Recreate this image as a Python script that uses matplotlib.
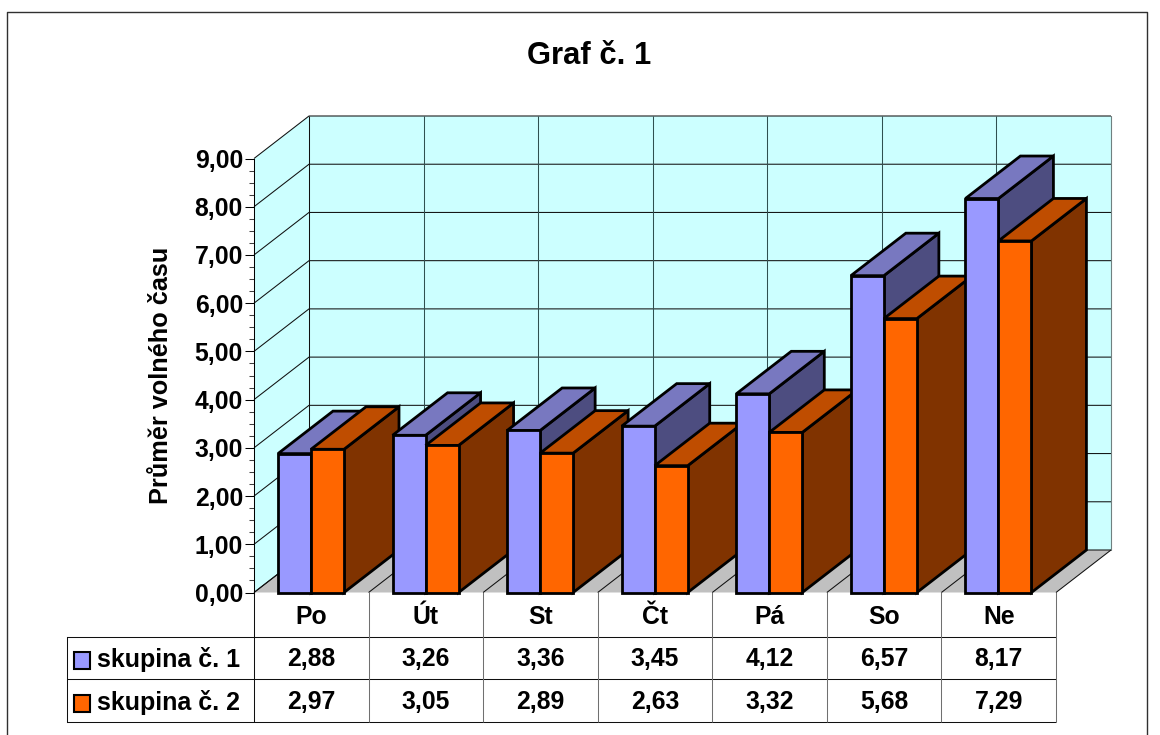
from matplotlib import pyplot as plt
from matplotlib.ticker import MultipleLocator

# data
dny = ['Po', 'Út', 'St', 'Čt', 'Pá', 'So', 'Ne']
skupina1 = [2.88, 3.26, 3.36, 3.45, 4.12, 6.57, 8.17]
skupina2 = [2.97, 3.05, 2.89, 2.63, 3.32, 5.68, 7.29]
nazvy = ['skupina č. 1', 'skupina č. 2']
osa_y = [0, 1, 2, 3, 4, 5, 6, 7, 8, 9]

W, H = 1160, 735
LEFT, RIGHT, BASE, TOP = 254, 1056, 592.5, 158.5
PX_X = (RIGHT - LEFT) / len(dny)
PX_Y = (BASE - TOP) / osa_y[-1]
DX = 55 / PX_X   # depth of the fake 3d, in data units
DY = 42.5 / PX_Y
BAR_W = 33 / PX_X
BAR_OFF = 24 / PX_X

MODRA = ('#9999FF', '#7878C0', '#4D4D80')
ORANZ = ('#FF6600', '#BF4D00', '#803300')
THIN = 0.75
THICK = 2.0

plt.rcParams['font.family'] = ['Liberation Sans', 'DejaVu Sans']
plt.rcParams['font.weight'] = 'bold'

fig = plt.figure(figsize=(W / 100, H / 100), dpi=100, facecolor='white')

# page layer in pixel coordinates: frame, title, data table
page = fig.add_axes([0, 0, 1, 1])
page.set_xlim(0, W)
page.set_ylim(H, 0)
page.axis('off')

ax = fig.add_axes([LEFT / W, 1 - BASE / H, (RIGHT - LEFT) / W, (BASE - TOP) / H])
ax.patch.set_alpha(0)
ax.set_xlim(0, len(dny))
ax.set_ylim(osa_y[0], osa_y[-1])


def poly(xs, ys, color, lw=THICK):
    ax.fill(xs, ys, facecolor=color, edgecolor='black', linewidth=lw,
            clip_on=False, joinstyle='miter', zorder=3)


def thin(xs, ys, color='#101010'):
    ax.plot(xs, ys, color=color, linewidth=THIN, clip_on=False,
            solid_capstyle='butt', zorder=2)


def bar3d(x, value, colors):
    poly([x + BAR_W, x + BAR_W + DX, x + BAR_W + DX, x + BAR_W],
         [0, DY, value + DY, value], colors[2])
    poly([x, x + DX, x + BAR_W + DX, x + BAR_W],
         [value, value + DY, value + DY, value], colors[1])
    poly([x, x + BAR_W, x + BAR_W, x], [0, 0, value, value], colors[0])


n = len(dny)
top = osa_y[-1]

# walls and floor
ax.fill([0, DX, DX, 0], [0, DY, top + DY, top], color='#CCFFFF', clip_on=False, linewidth=0, zorder=1)
ax.fill([DX, n + DX, n + DX, DX], [DY, DY, top + DY, top + DY], color='#CCFFFF',
        clip_on=False, linewidth=0, zorder=1)
ax.fill([0, n, n + DX, DX], [0, 0, DY, DY], color='#C0C0C0', clip_on=False, linewidth=0, zorder=1)

# gridlines
for v in osa_y:
    thin([0, DX, n + DX], [v, v + DY, v + DY])
for i in range(n + 1):
    thin([i + DX, i + DX], [DY, top + DY], '#305050' if 0 < i < n else '#101010')
    thin([i, i + DX], [0, DY])
thin([n + DX, n + DX], [DY, top + DY], '#708080')

# bars, left to right so the nearer ones overlap
for i in range(n):
    bar3d(i + BAR_OFF, skupina1[i], MODRA)
    bar3d(i + BAR_OFF + BAR_W, skupina2[i], ORANZ)

# y axis
ax.set_yticks(osa_y)
ax.set_yticklabels([f'{v:.2f}'.replace('.', ',') for v in osa_y], fontsize=17.8)
ax.yaxis.set_minor_locator(MultipleLocator(0.25))
ax.tick_params(axis='y', which='major', length=6.5, width=THIN, pad=1.5)
ax.tick_params(axis='y', which='minor', length=3.6, width=THIN, color='#404040')
ax.set_xticks([])
for s in ['top', 'right', 'bottom']:
    ax.spines[s].set_visible(False)
ax.spines['left'].set_linewidth(THIN)
ax.set_ylabel('Průměr volného času', fontsize=18.2, fontweight='bold')
ax.yaxis.set_label_coords((173 - LEFT) / (RIGHT - LEFT), (BASE - 375.5) / (BASE - TOP))

# outer frame, the bottom edge falls outside the picture
page.plot([7, 7, 1147, 1147], [735, 12, 12, 735], color='#303030', linewidth=1.0)
page.text(589, 55.5, 'Graf č. 1', fontsize=22.3, ha='center', va='center')

# data table
ROW = [592, 637, 679, 722]
TAB_LEFT = 67
for y in ROW[1:]:
    page.plot([TAB_LEFT, RIGHT], [y, y], color='#101010', linewidth=THIN, solid_capstyle='butt')
page.plot([TAB_LEFT, TAB_LEFT], [ROW[1], ROW[3]], color='#101010', linewidth=THIN)
for i in range(n + 1):
    x = LEFT + i * PX_X
    c = '#101010' if i == 0 else '#707070'
    page.plot([x, x], [ROW[0], ROW[3]], color=c, linewidth=THIN, solid_capstyle='butt')

rows = [skupina1, skupina2]
for i, den in enumerate(dny):
    x = LEFT + (i + 0.5) * PX_X
    page.text(x, 616.5, den, fontsize=17.8, ha='center', va='center')
    for r, hodnoty in enumerate(rows):
        page.text(x, 659.5 + 42.5 * r, f'{hodnoty[i]:.2f}'.replace('.', ','),
                  fontsize=17.8, ha='center', va='center')

# legend keys sit in the table
for r, (nazev, barvy) in enumerate(zip(nazvy, (MODRA, ORANZ))):
    y = 652 + 42.5 * r
    page.add_patch(plt.Rectangle((73.5, y), 16.5, 17, facecolor=barvy[0], edgecolor='black', linewidth=1.5))
    page.text(97, 660 + 42.5 * r, nazev, fontsize=18, ha='left', va='center')

fig.savefig('out.png', dpi=100)
